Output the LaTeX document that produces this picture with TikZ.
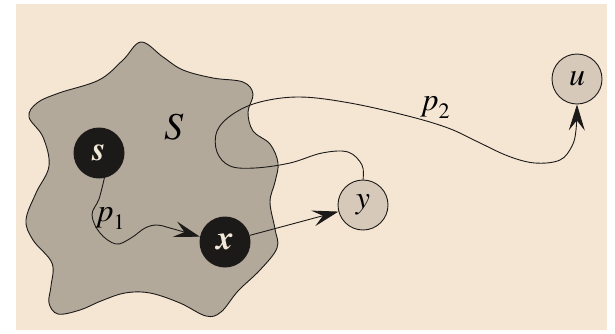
\documentclass[tikz,border=0pt]{standalone}
\usepackage{fontspec}
\setmainfont{texgyretermes}[
  Extension=.otf,
  UprightFont=*-regular,
  ItalicFont=*-italic,
  BoldFont=*-bold,
  BoldItalicFont=*-bolditalic]
\usetikzlibrary{arrows.meta}

\definecolor{paper}{RGB}{245,229,211}
\definecolor{blobgrey}{RGB}{179,169,155}
\definecolor{nodegrey}{RGB}{215,201,186}
\definecolor{ink}{RGB}{28,26,24}
\definecolor{cream}{RGB}{242,232,216}

\begin{document}
\begin{tikzpicture}[x=1pt, y=-1pt,
  dark/.style={circle, fill=ink, text=cream, minimum size=51pt, inner sep=0pt,
    font=\fontsize{34}{38}\selectfont\bfseries\itshape},
  light/.style={circle, draw=ink, line width=0.9pt, fill=nodegrey, minimum size=50pt,
    inner sep=0pt, font=\fontsize{32}{36}\selectfont\itshape},
  lbl/.style={font=\fontsize{32}{36}\selectfont\itshape, inner sep=0pt},
  walk/.style={draw=ink, line width=0.9pt},
  arr/.style={-{Stealth[length=26pt, width=16pt, inset=10pt]}}]

  % page and background
  \useasboundingbox (0,0) rectangle (615,333);
  \fill[paper] (16,4) rectangle (607,330);

  % the set S
  \draw[walk, fill=blobgrey] plot[smooth cycle, tension=0.6] coordinates {
    (141,42) (163,57) (183,70) (213,78) (243,82) (253,94) (248,112) (253,131)
    (270,144) (278,163) (275,182) (270,202) (275,229) (277,248) (260,270)
    (238,291) (221,312) (206,316) (180,303) (150,293) (125,293) (101,301)
    (80,310) (58,314) (49,303) (51,286) (52,263) (33,240) (26,220) (36,193)
    (49,166) (43,137) (29,117) (37,103) (59,93) (99,80) (123,60)};
  \node[lbl, font=\fontsize{38}{42}\selectfont\itshape] (setS) at (174,127) {S};

  % vertices
  \node[dark]  (s) at (99,153)  {s};
  \node[dark]  (x) at (225,242) {x};
  \node[light] (y) at (363,205) {y};
  \node[light] (u) at (577,79)  {u};

  % path p1 from s to x
  \draw[walk, arr] plot[smooth, tension=0.6] coordinates {
    (s.-78) (99,199) (92,215) (100,233) (116,244) (131,238) (145,228)
    (157,225) (170,228) (x.168)};
  \node[lbl] (p1) at (111,218) {p\raisebox{-8pt}{\upshape\fontsize{22}{24}\selectfont 1}};

  % edge x to y
  \draw[walk, arr] (x) -- (y);

  % path p2 from y to u
  \draw[walk, arr] plot[smooth, tension=0.6] coordinates {
    (y.north) (362,165) (348,152) (322,153) (290,163) (255,168) (230,166)
    (217,152) (217,131) (233,114) (260,102) (300,97) (350,103) (408,116)
    (448,128) (476,141) (508,156) (535,163) (560,160) (572,146) (576,130)
    (u.south)};
  \node[lbl] (p2) at (436,107) {p\raisebox{-8pt}{\upshape\fontsize{22}{24}\selectfont 2}};

\end{tikzpicture}
\end{document}
